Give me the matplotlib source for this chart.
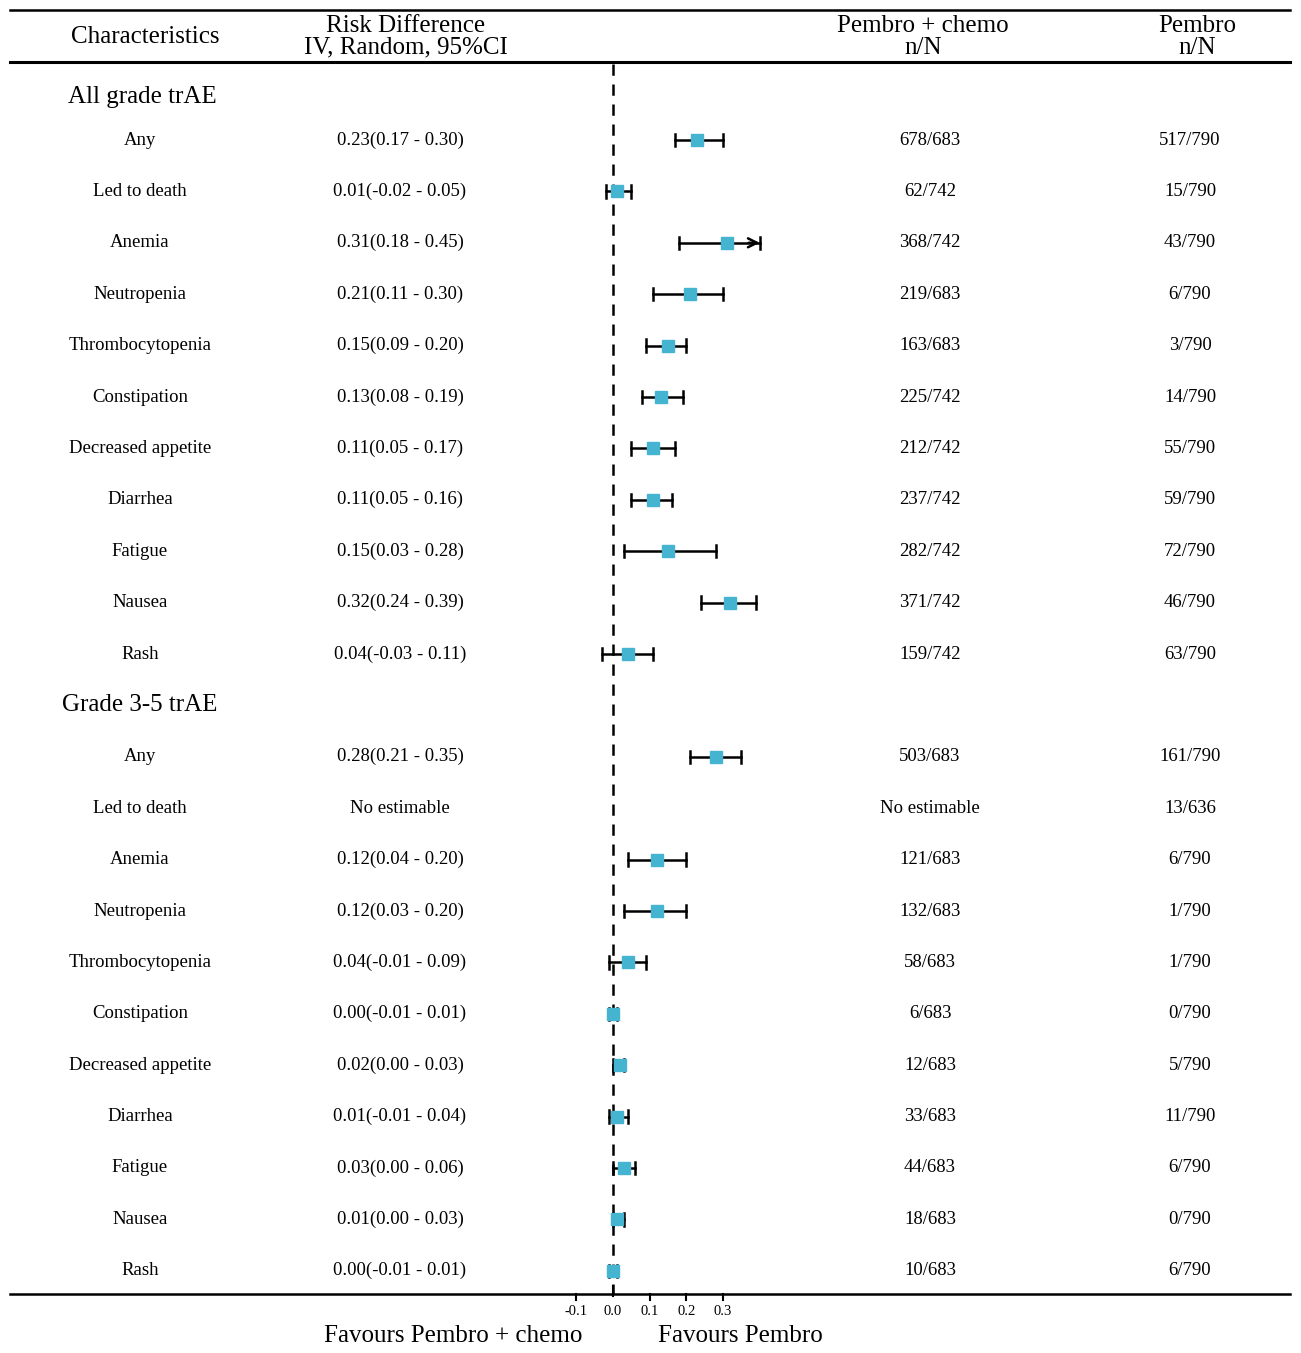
import numpy as np
import matplotlib
matplotlib.use("Agg")
import matplotlib.pyplot as plt
import matplotlib.transforms as mtransforms

plt.rcParams['font.family'] = ['Liberation Serif', 'DejaVu Serif']

# data
sections = ["All grade trAE", "Grade 3-5 trAE"]
items = ["Any", "Led to death", "Anemia", "Neutropenia", "Thrombocytopenia",
         "Constipation", "Decreased appetite", "Diarrhea", "Fatigue", "Nausea", "Rash"]

all_est = [0.23, 0.01, 0.31, 0.21, 0.15, 0.13, 0.11, 0.11, 0.15, 0.32, 0.04]
all_lo = [0.17, -0.02, 0.18, 0.11, 0.09, 0.08, 0.05, 0.05, 0.03, 0.24, -0.03]
all_hi = [0.30, 0.05, 0.45, 0.30, 0.20, 0.19, 0.17, 0.16, 0.28, 0.39, 0.11]
all_combo = ["678/683", "62/742", "368/742", "219/683", "163/683", "225/742",
             "212/742", "237/742", "282/742", "371/742", "159/742"]
all_mono = ["517/790", "15/790", "43/790", "6/790", "3/790", "14/790",
            "55/790", "59/790", "72/790", "46/790", "63/790"]

g35_est = [0.28, np.nan, 0.12, 0.12, 0.04, 0.00, 0.02, 0.01, 0.03, 0.01, 0.00]
g35_lo = [0.21, np.nan, 0.04, 0.03, -0.01, -0.01, 0.00, -0.01, 0.00, 0.00, -0.01]
g35_hi = [0.35, np.nan, 0.20, 0.20, 0.09, 0.01, 0.03, 0.04, 0.06, 0.03, 0.01]
g35_combo = ["503/683", "No estimable", "121/683", "132/683", "58/683", "6/683",
             "12/683", "33/683", "44/683", "18/683", "10/683"]
g35_mono = ["161/790", "13/636", "6/790", "1/790", "1/790", "0/790",
            "5/790", "11/790", "6/790", "0/790", "6/790"]

xticks = [-0.1, 0.0, 0.1, 0.2, 0.3]
x_clip = 0.4

W, H = 1301, 1353
fig = plt.figure(figsize=(W / 100, H / 100), dpi=100)
ax = fig.add_axes([0, 0, 1, 1])
ax.set_axis_off()

# x: 0 at pixel 613, 0.1 per 36.7 px ; y: row index, pitch 51.4 px
x0_px, x_scale = 613.0, 366.7
y0_px, pitch = 140.0, 51.4
ax.set_xlim(-x0_px / x_scale, (W - x0_px) / x_scale)
ax.set_ylim((H - y0_px) / pitch + 1, -y0_px / pitch + 1)

def row_of(px):
    return (px - y0_px) / pitch + 1

colx = mtransforms.blended_transform_factory(ax.transAxes, ax.transData)
cx_char, cx_rd, cx_combo, cx_mono = 140 / W, 400 / W, 930 / W, 1190 / W
body_fs = 13.5
head_fs = 18
marker_color = "#45B4D0"

# rules
line_l, line_r = 10 / W, 1290 / W
ax.plot([line_l, line_r], [row_of(10)] * 2, color="black", lw=1.8, transform=colx)
ax.plot([line_l, line_r], [row_of(62)] * 2, color="black", lw=2.2, transform=colx)
y_axis = row_of(1294)
ax.plot([line_l, line_r], [y_axis] * 2, color="black", lw=1.8, transform=colx)

# header
ax.text(145 / W, row_of(37), "Characteristics", ha="center", va="center", fontsize=head_fs, transform=colx)
ax.text(406 / W, row_of(37), "Risk Difference\nIV, Random, 95%CI", ha="center", va="center",
        fontsize=head_fs, linespacing=0.95, transform=colx)
ax.text(923 / W, row_of(37), "Pembro + chemo\nn/N", ha="center", va="center",
        fontsize=head_fs, linespacing=0.95, transform=colx)
ax.text(1197 / W, row_of(37), "Pembro\nn/N", ha="center", va="center",
        fontsize=head_fs, linespacing=0.95, transform=colx)

# zero line
ax.plot([0, 0], [row_of(64), y_axis], color="black", lw=1.8, dashes=(4.5, 3.5))

groups = [
    (sections[0], all_est, all_lo, all_hi, all_combo, all_mono),
    (sections[1], g35_est, g35_lo, g35_hi, g35_combo, g35_mono),
]
row = 0
for gi, (title, est, lo, hi, combo, mono) in enumerate(groups):
    hx = 68 / W if gi == 0 else 62 / W
    hy = row + (0.17 if gi == 0 else 0.0)
    ax.text(hx, hy, title, ha="left", va="center", fontsize=head_fs, transform=colx)
    row += 1
    for k, name in enumerate(items):
        ax.text(cx_char, row, name, ha="center", va="center", fontsize=body_fs, transform=colx)
        if np.isnan(est[k]):
            ax.text(cx_rd, row, "No estimable", ha="center", va="center", fontsize=body_fs, transform=colx)
        else:
            ax.text(cx_rd, row, f"{est[k]:.2f}({lo[k]:.2f} - {hi[k]:.2f})", ha="center",
                    va="center", fontsize=body_fs, transform=colx)
            right = min(hi[k], x_clip)
            ax.plot([lo[k], right], [row, row], color="black", lw=1.8, zorder=3)
            ax.plot([lo[k], lo[k]], [row - 0.12, row + 0.12], color="black", lw=1.8, zorder=3)
            ax.plot([right, right], [row - 0.12, row + 0.12], color="black", lw=1.8, zorder=3)
            if hi[k] > x_clip:
                ax.annotate("", xy=(right, row), xytext=(right - 0.03, row),
                            arrowprops=dict(arrowstyle="->", color="black", lw=1.8,
                                            mutation_scale=16, shrinkA=0, shrinkB=0), zorder=3)
            ax.plot(est[k], row, marker="s", ms=9, color=marker_color, mec=marker_color, zorder=4)
        ax.text(cx_combo, row, combo[k], ha="center", va="center", fontsize=body_fs, transform=colx)
        ax.text(cx_mono, row, mono[k], ha="center", va="center", fontsize=body_fs, transform=colx)
        row += 1

# x axis ticks
tick_len = 6 / pitch
for t in xticks:
    if t == 0:
        ax.plot([t, t], [y_axis - 8 / pitch, y_axis + 2 / pitch], color="black", lw=1.5)
    else:
        ax.plot([t, t], [y_axis, y_axis + tick_len], color="black", lw=1.5)
    ax.text(t, row_of(1311), f"{t:.1f}", ha="center", va="center", fontsize=10.5)

ax.text(453 / W, row_of(1336), "Favours Pembro + chemo", ha="center", va="center",
        fontsize=head_fs, transform=colx)
ax.text(740 / W, row_of(1336), "Favours Pembro", ha="center", va="center",
        fontsize=head_fs, transform=colx)

fig.savefig("out.png", dpi=100, facecolor="white")
